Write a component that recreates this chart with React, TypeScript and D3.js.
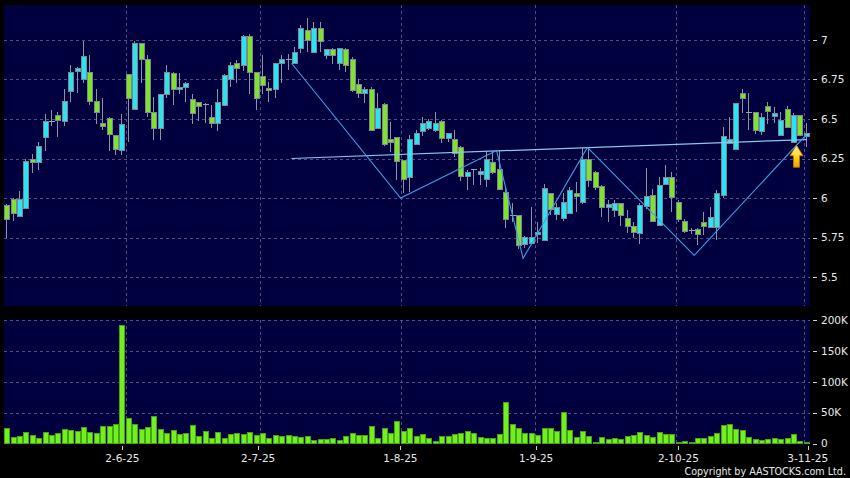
import React from "react";
import * as d3 from "d3";

const W = 850;
const H = 478;

// ---- data ----
const opens = [5.955,5.994,5.883,5.934,6.248,6.227,6.386,6.49,6.528,6.489,6.678,6.803,6.75,6.8,6.614,6.477,6.506,6.399,6.305,6.782,6.566,6.979,6.877,6.545,6.44,6.661,6.788,6.689,6.7,6.625,6.608,6.598,6.513,6.477,6.59,6.756,6.852,6.841,7.025,6.8,6.77,6.697,6.689,6.852,6.877,6.852,6.947,7.064,6.926,7.078,6.905,6.94,6.852,6.94,6.877,6.722,6.663,6.688,6.441,6.593,6.373,6.388,6.24,6.135,6.34,6.426,6.441,6.43,6.489,6.378,6.371,6.322,6.14,6.184,6.152,6.118,6.23,6.182,6.04,5.892,5.892,5.709,5.717,5.772,5.734,6.03,5.9,5.871,5.907,6.03,5.973,6.25,6.164,6.078,5.941,5.924,5.97,5.871,5.82,5.777,5.95,6.02,5.826,6.088,6.13,5.973,5.857,5.797,5.804,5.85,5.818,5.818,6.019,6.346,6.31,6.663,6.546,6.546,6.426,6.582,6.519,6.399,6.561,6.356,6.525,6.392];
const highs = [5.96,6.0,6.047,6.245,6.28,6.354,6.53,6.56,6.545,6.69,6.84,6.83,6.994,6.905,6.69,6.63,6.51,6.4,6.53,6.782,6.994,6.98,6.905,6.64,6.661,6.84,6.8,6.79,6.735,6.66,6.61,6.6,6.59,6.69,6.785,6.862,6.873,7.03,7.04,6.8,6.905,6.735,6.852,6.905,6.909,6.958,7.095,7.138,7.117,7.117,6.94,6.95,6.947,6.95,6.89,6.75,6.705,6.705,6.667,6.6,6.483,6.388,6.24,6.4,6.43,6.515,6.5,6.546,6.494,6.41,6.43,6.33,6.18,6.184,6.19,6.3,6.297,6.3,6.07,5.968,5.892,5.76,5.945,5.85,6.087,6.03,5.967,6.03,6.07,6.1,6.315,6.315,6.17,6.08,5.99,5.99,5.97,5.924,5.85,5.967,6.187,6.06,6.13,6.21,6.166,5.99,5.87,5.81,5.81,5.913,5.945,6.05,6.451,6.515,6.6,6.688,6.663,6.546,6.54,6.61,6.578,6.546,6.582,6.536,6.525,6.473];
const lows = [5.744,5.856,5.88,5.93,6.159,6.18,6.3,6.453,6.386,6.453,6.61,6.665,6.729,6.59,6.47,6.428,6.3,6.27,6.27,6.354,6.56,6.73,6.513,6.364,6.364,6.63,6.59,6.66,6.61,6.47,6.485,6.475,6.443,6.424,6.59,6.7,6.73,6.803,6.66,6.56,6.66,6.61,6.63,6.725,6.81,6.85,6.92,6.926,6.92,6.926,6.88,6.85,6.81,6.8,6.673,6.63,6.6,6.43,6.441,6.33,6.293,6.114,6.03,6.04,6.34,6.39,6.43,6.42,6.346,6.356,6.26,6.11,6.05,6.08,6.08,6.07,6.15,6.05,5.81,5.85,5.68,5.684,5.717,5.717,5.734,5.89,5.86,5.856,5.9,5.91,5.96,6.072,6.05,5.878,5.85,5.88,5.82,5.777,5.745,5.709,5.93,5.85,5.826,6.08,5.91,5.85,5.78,5.77,5.7,5.766,5.81,5.734,6.0,6.34,6.31,6.536,6.43,6.405,6.4,6.47,6.473,6.399,6.451,6.356,6.399,6.325];
const closes = [5.867,5.905,5.994,6.237,6.227,6.326,6.489,6.49,6.492,6.617,6.8,6.82,6.9,6.614,6.545,6.456,6.407,6.308,6.47,6.636,6.979,6.877,6.545,6.44,6.661,6.8,6.689,6.7,6.729,6.54,6.58,6.598,6.477,6.608,6.78,6.84,6.82,7.025,6.8,6.63,6.718,6.689,6.852,6.877,6.877,6.926,7.078,7.0,7.078,6.994,6.94,6.905,6.947,6.841,6.684,6.663,6.688,6.43,6.568,6.342,6.353,6.234,6.118,6.373,6.41,6.477,6.489,6.473,6.378,6.41,6.287,6.14,6.162,6.184,6.171,6.25,6.166,6.057,5.87,5.892,5.7,5.755,5.755,5.787,6.061,5.929,5.941,5.977,6.051,6.01,6.25,6.114,6.072,5.941,5.96,5.97,5.892,5.823,5.788,5.956,6.01,5.856,6.08,6.13,6.008,5.867,5.793,5.797,5.772,5.825,5.878,6.03,6.392,6.371,6.6,6.631,6.546,6.43,6.515,6.551,6.54,6.494,6.451,6.525,6.399,6.413];
const volumesK = [24.3,10.8,11.9,18.4,13.0,9.7,18.9,13.5,17.3,22.7,21.1,19.5,27.0,18.9,17.8,28.1,28.1,31.4,191.9,41.6,30.8,23.8,27.0,44.3,23.2,16.8,21.6,15.1,16.2,29.7,12.4,19.5,8.6,18.9,9.7,15.1,17.8,14.6,18.9,13.5,16.8,9.2,14.1,11.9,14.1,11.9,10.8,12.4,5.4,7.6,7.6,9.7,5.9,12.4,17.8,13.0,13.0,27.6,9.2,25.9,17.3,36.8,20.5,25.9,11.9,15.1,9.2,4.3,12.4,12.4,15.1,17.8,20.0,17.8,10.3,8.6,8.6,15.1,67.6,30.8,25.4,16.2,17.3,13.5,25.9,25.4,20.0,50.3,21.1,10.3,20.0,12.4,3.2,10.3,7.0,8.6,7.0,11.4,13.0,18.4,14.1,10.3,18.4,15.7,14.6,3.2,3.8,3.2,8.6,8.6,11.9,16.2,29.7,31.9,23.2,21.6,10.3,7.6,5.4,7.0,8.6,7.0,8.1,14.6,4.3,3.2];

// trading calendar (HK): weekdays minus public holidays
const firstDay = "2025-05-06";
const lastDay = "2025-11-03";
const holidays = ["2025-07-01", "2025-10-01", "2025-10-07", "2025-10-29"];

const priceTicks = [5.5, 5.75, 6, 6.25, 6.5, 6.75, 7];
const priceTickLabels = ["5.5", "5.75", "6", "6.25", "6.5", "6.75", "7"];
const volumeTicks = [0, 50000, 100000, 150000, 200000];
const volumeTickLabels = ["0", "50K", "100K", "150K", "200K"];

// hand-drawn overlay lines: [bar index, price]
const zigzagIdx = [44.45, 61.5, 76.5, 80.65, 90.7, 107.4, 124.9];
const zigzagPrice = [6.853, 6.0, 6.3, 5.618, 6.32, 5.637, 6.4];
const necklineIdx = [44.45, 125];
const necklinePrice = [6.25, 6.37];
const arrowBar = 123;

const parse = d3.timeParse("%Y-%m-%d");
const fmt = d3.timeFormat("%Y-%m-%d");
const dates = d3.timeDay
  .range(parse(firstDay)!, d3.timeDay.offset(parse(lastDay)!, 1))
  .filter((d) => d.getDay() !== 0 && d.getDay() !== 6 && !holidays.includes(fmt(d)));
const labelFmt = d3.timeFormat("%-d-%-m-%y");

const N = opens.length;

const PLOT_L = 4;
const PLOT_R = 810;
const P_TOP = 5;
const P_BOT = 306;
const V_TOP = 319.5;
const V_BOT = 444;

export default function App() {
  const x = d3.scaleBand<number>().domain(d3.range(N)).range([PLOT_L, PLOT_R]).padding(0);
  const step = x.step();
  const xc = (i: number) => (x(i) as number) + step / 2;
  const xFrac = d3.scaleLinear().domain([0, N - 1]).range([xc(0), xc(N - 1)]);
  const tickX = d3.scaleLinear().domain([0, N - 1]).range([PLOT_L - 4.5, PLOT_R - 2.3]);

  const y = d3.scaleLinear().domain([5.3165, 7.2215]).range([P_BOT, P_TOP]);
  const yv = d3.scaleLinear().domain([0, 200000]).range([443.5, 320]);

  const monthStarts: number[] = [];
  dates.forEach((d, i) => {
    if (i > 0 && d.getMonth() !== dates[i - 1].getMonth()) monthStarts.push(i);
  });

  const gridColor = "#4f4f86";
  const textColor = "#e8e8e8";
  const font = "DejaVu Sans, Verdana, sans-serif";

  const zigzag = d3
    .line<number>()
    .x((i) => xFrac(zigzagIdx[i]))
    .y((i) => y(zigzagPrice[i]))(d3.range(zigzagIdx.length));
  const neck = d3
    .line<number>()
    .x((i) => xFrac(necklineIdx[i]))
    .y((i) => y(necklinePrice[i]))(d3.range(necklineIdx.length));

  const ax = Math.round(xc(arrowBar)) + 2.5;
  const ay = y(lows[arrowBar]) + 3.5;
  const arrowPath = `M${ax},${ay} L${ax + 6.5},${ay + 10.5} L${ax + 3},${ay + 10.5} L${ax + 3},${ay + 22} L${ax - 3},${ay + 22} L${ax - 3},${ay + 10.5} L${ax - 6.5},${ay + 10.5} Z`;

  return (
    <svg
      width={W}
      height={H}
      style={{ position: "absolute", left: 0, top: 0, display: "block" }}
      xmlns="http://www.w3.org/2000/svg"
    >
      <defs>
        <linearGradient id="arrowGrad" x1="0" y1="0" x2="0" y2="1">
          <stop offset="0" stopColor="#fff6a0" />
          <stop offset="0.55" stopColor="#ffd21a" />
          <stop offset="1" stopColor="#f0a000" />
        </linearGradient>
      </defs>
      <rect x={0} y={0} width={W} height={H} fill="#000" />
      {/* panels */}
      <rect x={PLOT_L} y={P_TOP} width={PLOT_R - PLOT_L} height={P_BOT - P_TOP} fill="#00003e" />
      <rect x={PLOT_L} y={V_TOP} width={PLOT_R - PLOT_L} height={V_BOT - V_TOP} fill="#00003e" />

      {/* grid lines */}
      <g stroke={gridColor} strokeWidth={1} strokeDasharray="3,3" shapeRendering="crispEdges">
        {priceTicks.map((p) => (
          <line key={"pg" + p} x1={PLOT_L} x2={PLOT_R} y1={Math.round(y(p)) + 0.5} y2={Math.round(y(p)) + 0.5} />
        ))}
        {volumeTicks.slice(1).map((v) => (
          <line key={"vg" + v} x1={PLOT_L} x2={PLOT_R} y1={Math.round(yv(v)) + 0.5} y2={Math.round(yv(v)) + 0.5} />
        ))}
        {monthStarts.map((i) => (
          <g key={"mg" + i}>
            <line x1={Math.round(x(i) as number) + 0.5} x2={Math.round(x(i) as number) + 0.5} y1={P_TOP} y2={P_BOT} />
            <line x1={Math.round(x(i) as number) + 0.5} x2={Math.round(x(i) as number) + 0.5} y1={V_TOP} y2={V_BOT} />
          </g>
        ))}
      </g>

      {/* candles */}
      <g shapeRendering="crispEdges">
        {d3.range(N).map((i) => {
          const cx = Math.round(xc(i));
          const o = opens[i], c = closes[i];
          const up = c >= o;
          const doji = Math.abs(c - o) < 0.006;
          const top = y(Math.max(o, c));
          const bot = y(Math.min(o, c));
          return (
            <g key={"c" + i}>
              <line x1={cx - 0.5} x2={cx - 0.5} y1={y(highs[i])} y2={y(lows[i])} stroke="#8b939c" strokeWidth={1} />
              {doji ? (
                <line x1={cx - 3.5} x2={cx + 2.5} y1={Math.round(top) + 0.5} y2={Math.round(top) + 0.5} stroke="#9aa2aa" strokeWidth={1.5} />
              ) : (
                <rect
                  x={cx - 3}
                  y={Math.round(top) + 0.5}
                  width={5}
                  height={Math.max(Math.round(bot) - Math.round(top), 2)}
                  fill={up ? "#2ae4f2" : "#7ee32b"}
                  stroke="#7e8893"
                  strokeWidth={1}
                />
              )}
            </g>
          );
        })}
      </g>

      {/* overlay lines */}
      <path d={neck || ""} fill="none" stroke="#86c8f2" strokeWidth={1.2} />
      <path d={zigzag || ""} fill="none" stroke="#3d9fe4" strokeWidth={1.1} />
      <path d={arrowPath} fill="url(#arrowGrad)" stroke="#c07a00" strokeWidth={0.8} />

      {/* volume */}
      <g shapeRendering="crispEdges">
        {volumesK.map((v, i) => {
          const cx = Math.round(xc(i));
          const top = Math.round(yv(v * 1000));
          return (
            <rect
              key={"v" + i}
              x={cx - 3}
              y={top + 0.5}
              width={5}
              height={Math.max(443 - top, 1)}
              fill="#70f020"
              stroke="#46a314"
              strokeWidth={1}
            />
          );
        })}
      </g>

      {/* right axis */}
      <g fontFamily={font} fontSize={10.5} fill={textColor}>
        {priceTicks.map((p, k) => (
          <g key={"pt" + p}>
            <line x1={PLOT_R + 3} x2={PLOT_R + 7} y1={Math.round(y(p)) + 0.5} y2={Math.round(y(p)) + 0.5} stroke="#cfcfcf" strokeWidth={1} />
            <text x={PLOT_R + 11} y={y(p)} dy="0.36em">
              {priceTickLabels[k]}
            </text>
          </g>
        ))}
        {volumeTicks.map((v, k) => (
          <g key={"vt" + v}>
            <line x1={PLOT_R + 3} x2={PLOT_R + 7} y1={Math.round(yv(v)) + 0.5} y2={Math.round(yv(v)) + 0.5} stroke="#cfcfcf" strokeWidth={1} />
            <text x={PLOT_R + 11} y={yv(v)} dy="0.36em">
              {volumeTickLabels[k]}
            </text>
          </g>
        ))}
      </g>

      {/* bottom axis */}
      <g fontFamily={font} fontSize={10.5} fill={textColor}>
        {monthStarts.map((i) => (
          <g key={"bt" + i}>
            <line x1={Math.round(tickX(i)) + 0.5} x2={Math.round(tickX(i)) + 0.5} y1={446} y2={450} stroke="#cfcfcf" strokeWidth={1} />
            <text x={tickX(i)} y={462} textAnchor="middle">
              {labelFmt(dates[i])}
            </text>
          </g>
        ))}
        <text x={846} y={474.5} textAnchor="end" fontSize={9.6}>
          Copyright by AASTOCKS.com Ltd.
        </text>
      </g>
    </svg>
  );
}
